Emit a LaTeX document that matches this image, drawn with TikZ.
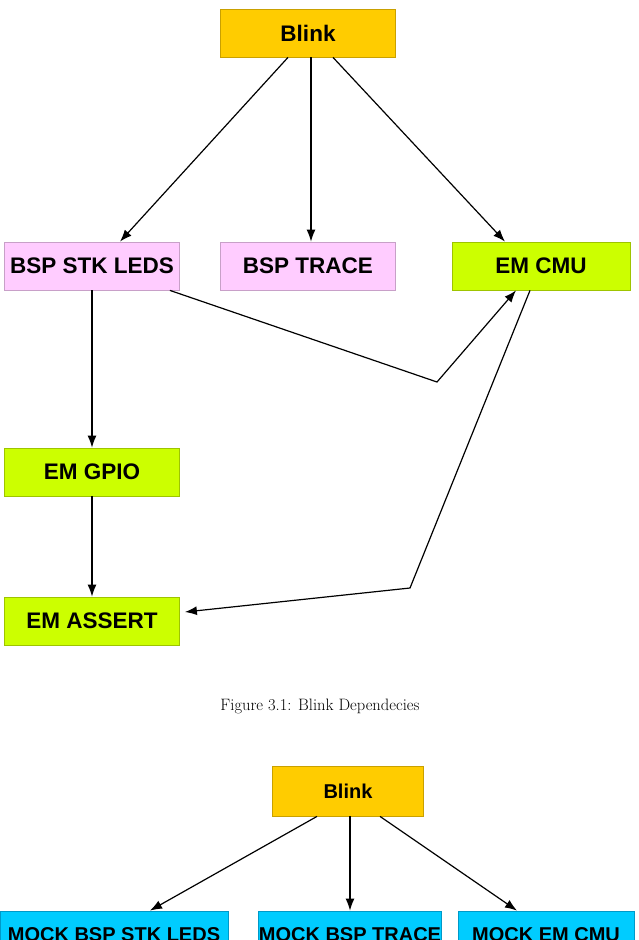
\documentclass[tikz,border=0pt]{standalone}
\usepackage{fontspec}
\newfontfamily\boxfont{Liberation Sans}
\usetikzlibrary{arrows.meta}
\definecolor{blinkfill}{HTML}{FFCC00}
\definecolor{blinkline}{HTML}{C9A000}
\definecolor{bspfill}{HTML}{FFCCFF}
\definecolor{bspline}{HTML}{C8A0C8}
\definecolor{emfill}{HTML}{CCFF00}
\definecolor{emline}{HTML}{9EC400}
\definecolor{mockfill}{HTML}{00CCFF}
\definecolor{mockline}{HTML}{0099C8}
\tikzset{
  box/.style={draw, line width=0.8pt, minimum width=175pt, minimum height=48pt,
    inner sep=0pt, font=\boxfont\bfseries\fontsize{22.5}{26}\selectfont},
  smalltext/.style={font=\boxfont\bfseries\fontsize{20}{24}\selectfont},
  blinkbox/.style={box, fill=blinkfill, draw=blinkline},
  bspbox/.style={box, fill=bspfill, draw=bspline},
  embox/.style={box, fill=emfill, draw=emline},
  mockbox/.style={box, fill=mockfill, draw=mockline, smalltext},
  dep/.style={-{Latex[length=12pt,width=9pt]}, line width=1.2pt},
}
\begin{document}
\begin{tikzpicture}[x=1pt,y=-1pt]
            \clip (0,0) rectangle (639,940);

            \node[blinkbox] (blink) at (308,33) {Blink};
            \node[bspbox] (bspleds) at (92,266) {BSP STK LEDS};
            \node[bspbox] (bsptrace) at (308,266) {BSP TRACE};
            \node[embox, minimum width=178pt] (emcmu) at (541,266) {EM CMU};
            \node[embox] (emgpio) at (92,472) {EM GPIO};
            \node[embox] (emassert) at (92,621) {EM ASSERT};

            \coordinate (bendA) at (437,382);
            \coordinate (bendB) at (410,588);

            \draw[dep] ([xshift=-20pt]blink.south) -- ([xshift=28pt]bspleds.north);
            \draw[dep] ([xshift=3pt]blink.south) -- ([xshift=3pt]bsptrace.north);
            \draw[dep] ([xshift=25pt]blink.south) -- ([xshift=-36pt]emcmu.north);
            \draw[dep] (bspleds.south) -- (emgpio.north);
            \draw[dep] ([xshift=-10pt]bspleds.south east) -- (bendA) -- ([xshift=-25pt]emcmu.south);
            \draw[dep] ([xshift=-11pt]emcmu.south) -- (bendB) -- ([xshift=5pt,yshift=9pt]emassert.east);
            \draw[dep] (emgpio.south) -- (emassert.north);

            \node[font=\fontsize{16.5}{20}\selectfont] (caption) at (320,706) {Figure 3.1: Blink Dependecies};

            \node[blinkbox, smalltext, minimum width=151pt, minimum height=50pt] (mblink) at (348,791) {Blink};
            \node[mockbox, minimum width=228pt] (mockleds) at (114,935) {MOCK BSP STK LEDS};
            \node[mockbox] (mocktrace) at (350,935) {MOCK BSP TRACE};
            \node[mockbox, minimum width=176pt] (mockcmu) at (546,935) {MOCK EM CMU};

            \draw[dep] ([xshift=-31pt]mblink.south) -- ([xshift=36pt]mockleds.north);
            \draw[dep] ([xshift=2pt]mblink.south) -- ([xshift=0pt]mocktrace.north);
            \draw[dep] ([xshift=32pt]mblink.south) -- ([xshift=-29pt]mockcmu.north);
        \end{tikzpicture}
\end{document}
